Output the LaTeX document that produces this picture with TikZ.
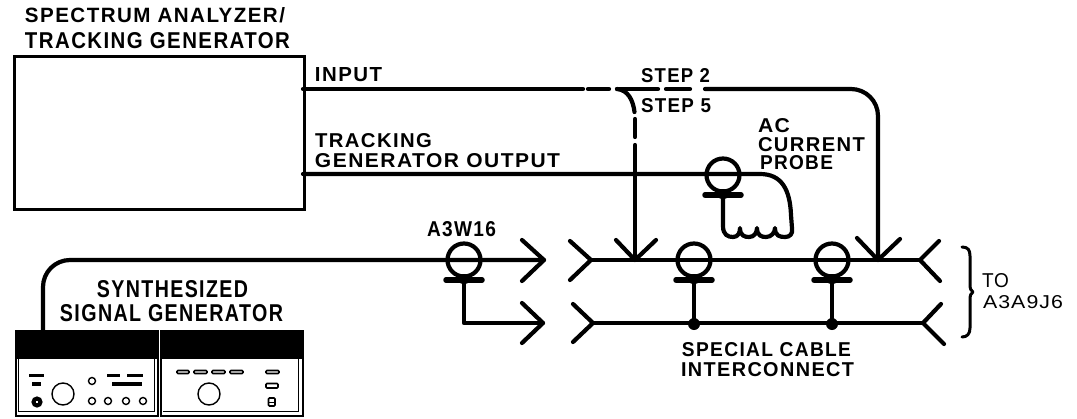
\documentclass[tikz,border=0pt]{standalone}
\usepackage{fontspec}
\usepackage{graphicx}
\setmainfont{Liberation Sans}
\newcommand{\fitB}[3]{\resizebox{#1pt}{#2pt}{\bfseries\addfontfeature{LetterSpace=7}#3}}
\newcommand{\fitR}[3]{\resizebox{#1pt}{#2pt}{\addfontfeature{LetterSpace=5}#3}}
\newcommand{\probeAt}[3]{%
  \node[probering] (#1) at (#2,#3) {};
  \coordinate (#1-l) at (#2-18,#3+20);
  \coordinate (#1-r) at (#2+18,#3+20);
  \coordinate (#1-b) at (#2,#3+20);
  \draw[probebar] (#1-l) -- (#1-r);
  \fill (#2,#3+19) ellipse [x radius=7, y radius=5];
}
\tikzset{
  wire/.style={line width=4.2pt, line cap=round, line join=round},
  thinwire/.style={line width=3pt, line cap=round, line join=round},
  probering/.style={circle, draw, line width=4.2pt, minimum size=33pt, inner sep=0pt},
  probebar/.style={line width=5.5pt, line cap=round},
  lbl/.style={inner sep=0pt, outer sep=0pt, anchor=center},
  panel/.style={draw, line width=2pt, inner sep=0pt, minimum width=142pt, minimum height=85pt, anchor=north west},
  btn/.style={line width=1.6pt, rounded corners=1pt},
  knob/.style={line width=1.4pt},
}
\begin{document}
\begin{tikzpicture}[x=1pt,y=-1pt]
\useasboundingbox (0,0) rectangle (1077,418);
% ---- labels
\node[lbl] (t1) at (155,15.5) {\fitB{260}{15}{SPECTRUM ANALYZER/}};
\node[lbl] (t2) at (157.5,41) {\fitB{265}{16}{TRACKING GENERATOR}};
\node[lbl] (t3) at (348.5,74.5) {\fitB{67}{14}{INPUT}};
\node[lbl] (t4) at (373.5,140.5) {\fitB{117}{14}{TRACKING}};
\node[lbl] (t5) at (437.5,161) {\fitB{245}{14}{GENERATOR OUTPUT}};
\node[lbl] (t6) at (675.5,75.5) {\fitB{69}{14}{STEP 2}};
\node[lbl] (t7) at (676,105.5) {\fitB{70}{14}{STEP 5}};
\node[lbl] (t8) at (774,126) {\fitB{32}{14}{AC}};
\node[lbl] (t9) at (811.5,144.5) {\fitB{107}{14}{CURRENT}};
\node[lbl] (t10) at (796.5,163) {\fitB{73}{14}{PROBE}};
\node[lbl] (t11) at (461.5,229) {\fitB{69}{15}{A3W16}};
\node[lbl] (t12) at (172.5,289) {\fitB{151}{17}{SYNTHESIZED}};
\node[lbl] (t13) at (171.5,313.5) {\fitB{223}{17}{SIGNAL GENERATOR}};
\node[lbl] (t14) at (766.5,350) {\fitB{169}{14}{SPECIAL CABLE}};
\node[lbl] (t15) at (767.5,370) {\fitB{173}{14}{INTERCONNECT}};
\node[lbl] (t16) at (995.5,281) {\fitR{27}{14}{TO}};
\node[lbl] (t17) at (1023,302) {\fitR{80}{13}{A3A9J6}};
% ---- spectrum analyzer
\node[draw, line width=3pt, minimum width=290.5pt, minimum height=153pt, inner sep=0pt, anchor=north west] (analyzer) at (12.5,55) {};
% ---- named points
\coordinate (inA) at (303,89);
\coordinate (trA) at (303,174);
\coordinate (tipTL) at (544,260);
\coordinate (tipBL) at (543,323);
\coordinate (tipTR) at (591,260);
\coordinate (tipBR) at (593,323);
\coordinate (forkT) at (920,260);
\coordinate (forkB) at (923,323);
\coordinate (arrow5) at (635,260);
\coordinate (arrow2) at (878,260);
\coordinate (genOut) at (43,330);
% ---- probes
\probeAt{pTrack}{723}{175}
\probeAt{pA}{464}{260}
\probeAt{pB}{694}{260}
\probeAt{pC}{832}{260}
% ---- input line, broken
\draw[wire] (inA) -- (583,89);
\draw[wire] (588,89) -- (609,89);
\draw[wire] (617,89) -- (658,89);
\draw[wire] (666,89) -- (690,89);
\draw[wire, rounded corners=27pt] (705,89) -- (878,89) -- (arrow2);
\draw[wire] (617,89) .. controls (628,90) and (633,100) .. (634.5,112);
\draw[wire] (635,119) -- (635,137);
\draw[wire] (635,145) -- (arrow5);
% ---- arrowheads on the cable
\draw[wire] (616,240) -- (arrow5) -- (656,240);
\draw[wire] (857,238) -- (arrow2) -- (900,239);
% ---- tracking generator output and coil
\draw[wire] (trA) -- (760,174) .. controls (782,174) and (790,190) .. (791,215) -- (792,228)
  .. controls (793,234) and (790,237) .. (785,237)
  .. controls (780,237) and (775,236) .. (775,228)
  .. controls (775,233) and (771,237) .. (766,237)
  .. controls (762,237) and (757,236) .. (757,228)
  .. controls (757,233) and (754,237) .. (749,237)
  .. controls (745,237) and (740,236) .. (740,228)
  .. controls (740,233) and (738,237) .. (733,237)
  .. controls (728,237) and (723,235) .. (723,226) -- (pTrack-b);
% ---- source cable and A3W16
\draw[wire, rounded corners=27pt] (genOut) -- (43,260) -- (tipTL);
\draw[wire] (522,240) -- (tipTL) -- (522,281);
\draw[wire] (pA-b) -- (464,323) -- (tipBL);
\draw[wire] (522,303) -- (tipBL) -- (522,343);
% ---- special cable interconnect
\draw[wire] (tipTR) -- (forkT);
\draw[wire] (tipBR) -- (forkB);
\draw[wire] (570,241) -- (tipTR) -- (570,280);
\draw[wire] (573,304) -- (tipBR) -- (573,342);
\draw[wire] (939,241) -- (forkT) -- (940,281);
\draw[wire] (941,304) -- (forkB) -- (944,344);
\draw[wire] (pB-b) -- (694,323);
\draw[wire] (pC-b) -- (832,323);
\fill (694,324) circle (6);
\fill (832,324) circle (6);
% ---- brace
\draw[thinwire] (962,247) .. controls (968,247) and (970,250) .. (970,256) -- (970,284)
  .. controls (970,289) and (971,291) .. (973,292)
  .. controls (971,293) and (970,295) .. (970,300) -- (970,328)
  .. controls (970,334) and (967,337) .. (962,337);
% ---- generators
\node[panel] (gen1) at (15,330) {};
\node[panel, minimum width=142pt] (gen2) at (160,330) {};
\fill (15,330) rectangle (157,359);
\fill (160,330) rectangle (302,359);
\draw[line width=1pt] (298,359) -- (298,411) -- (163,411);
\draw[line width=1pt] (18,359) -- (18,411) -- (154,411) -- (154,359);
% left panel
\fill[black] (29,373.5) rectangle (44,376.5);
\fill[black] (32,382) rectangle (41,386);
\draw[line width=4pt] (37,402) circle (3.5);
\draw[knob] (63,394) circle (11);
\draw[knob] (92,381) circle (3.5);
\fill[black] (107,373.5) rectangle (120,376.5);
\fill[black] (127,373.5) rectangle (143,376.5);
\fill[black] (112,382) rectangle (142,386);
\draw[knob] (92,401) circle (3.5);
\draw[knob] (108,401) circle (3.5);
\draw[knob] (126,401) circle (3.5);
\draw[knob] (143,401) circle (3.5);
% right panel
\draw[btn] (177,370.5) rectangle (189,373.5);
\draw[btn] (194,370.5) rectangle (207,373.5);
\draw[btn] (212,370.5) rectangle (225,373.5);
\draw[btn] (230,370.5) rectangle (243,373.5);
\draw[knob] (209,394) circle (11);
\draw[btn] (266,370.5) rectangle (279,373.5);
\draw[btn] (266,383.5) rectangle (278,388);
\draw[line width=1.6pt, rounded corners=1pt] (268.5,398) rectangle (275,406);
\draw[line width=1pt] (268.5,402) -- (275,402);
\end{tikzpicture}
\end{document}
